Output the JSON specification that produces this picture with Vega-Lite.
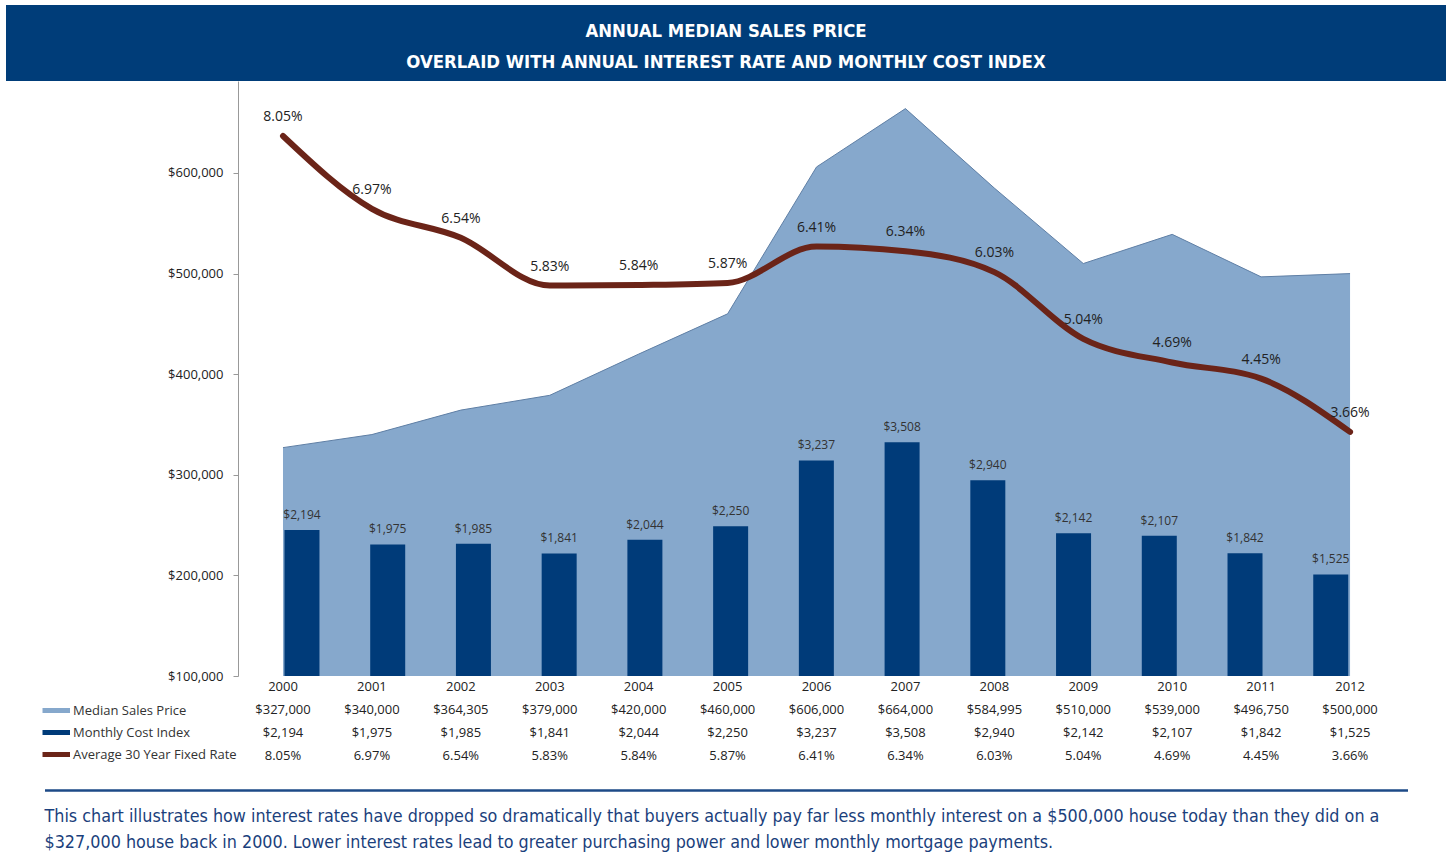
{
  "$schema": "https://vega.github.io/schema/vega-lite/v6.json",
  "background": "white",
  "padding": {"left": 6, "top": 5, "right": 3, "bottom": 0},
  "spacing": 0,
  "bounds": "flush",
  "center": true,
  "config": {"view": {"stroke": null}, "font": "Open Sans"},
  "datasets": {
    "years": [
      {"year": 2000, "price": 327000, "cost": 2194, "rate": 0.0805},
      {"year": 2001, "price": 340000, "cost": 1975, "rate": 0.0697},
      {"year": 2002, "price": 364305, "cost": 1985, "rate": 0.0654},
      {"year": 2003, "price": 379000, "cost": 1841, "rate": 0.0583},
      {"year": 2004, "price": 420000, "cost": 2044, "rate": 0.0584},
      {"year": 2005, "price": 460000, "cost": 2250, "rate": 0.0587},
      {"year": 2006, "price": 606000, "cost": 3237, "rate": 0.0641},
      {"year": 2007, "price": 664000, "cost": 3508, "rate": 0.0634},
      {"year": 2008, "price": 584995, "cost": 2940, "rate": 0.0603},
      {"year": 2009, "price": 510000, "cost": 2142, "rate": 0.0504},
      {"year": 2010, "price": 539000, "cost": 2107, "rate": 0.0469},
      {"year": 2011, "price": 496750, "cost": 1842, "rate": 0.0445},
      {"year": 2012, "price": 500000, "cost": 1525, "rate": 0.0366}
    ],
    "title": [
      {"line": 1, "text": "ANNUAL MEDIAN SALES PRICE"},
      {"line": 2, "text": "OVERLAID WITH ANNUAL INTEREST RATE AND MONTHLY COST INDEX"}
    ],
    "caption": [
      {"line": 1, "text": "This chart illustrates how interest rates have dropped so dramatically that buyers actually pay far less monthly interest on a $500,000 house today than they did on a"},
      {"line": 2, "text": "$327,000 house back in 2000.  Lower interest rates lead to greater purchasing power and lower monthly mortgage payments."}
    ]
  },
  "vconcat": [
    {
      "width": 1440,
      "height": 76,
      "view": {"fill": "#003d79", "stroke": null},
      "data": {"name": "title"},
      "mark": {"type": "text", "font": "DejaVu Sans Condensed, Roboto, sans-serif", "fontWeight": "bold", "fontSize": 18.4, "color": "white", "align": "center", "baseline": "middle"},
      "encoding": {
        "y": {"field": "line", "type": "ordinal", "axis": null, "scale": {"type": "point", "padding": 0.726, "align": 0.58}},
        "text": {"field": "text"}
      }
    },
    {
      "width": 1440,
      "height": 595,
      "data": {"name": "years"},
      "layer": [
        {
          "mark": {"type": "area", "color": "#86a8cc", "opacity": 1, "line": {"color": "#5f7fa5", "strokeWidth": 1}},
          "encoding": {
            "x": {"field": "year", "type": "quantitative", "scale": {"domain": [1996.885, 2013.079], "nice": false, "zero": false}, "axis": null},
            "y": {"field": "price", "type": "quantitative", "scale": {"domain": [100000, 691450], "nice": false, "zero": false},
              "axis": {"offset": -232, "values": [100000, 200000, 300000, 400000, 500000, 600000], "format": "$,.0f", "labelFontSize": 13, "labelColor": "#222", "tickSize": 5, "tickColor": "#999", "domainColor": "#999", "labelPadding": 10, "grid": false, "title": null, "labelFlush": false}},
            "y2": {"datum": 100000}
          }
        },
        {
          "encoding": {
            "x": {"field": "year", "type": "quantitative", "scale": {"domain": [1996.606, 2013.286], "nice": false, "zero": false}, "axis": null},
            "y": {"field": "cost", "type": "quantitative", "scale": {"domain": [0, 8934], "nice": false}, "axis": null}
          },
          "layer": [
            {"mark": {"type": "bar", "orient": "vertical", "width": 35, "color": "#003b79"}},
            {"mark": {"type": "text", "dy": -15, "fontSize": 12, "color": "#333", "baseline": "middle"},
             "encoding": {"text": {"field": "cost", "type": "quantitative", "format": "$,.0f"}}}
          ]
        },
        {
          "encoding": {
            "x": {"field": "year", "type": "quantitative", "scale": {"domain": [1996.885, 2013.079], "nice": false, "zero": false}, "axis": null},
            "y": {"field": "rate", "type": "quantitative", "scale": {"domain": [0.00038, 0.08866], "nice": false, "zero": false}, "axis": null}
          },
          "layer": [
            {"mark": {"type": "line", "interpolate": "monotone", "strokeWidth": 6, "color": "#6b2418", "strokeCap": "round"}},
            {"mark": {"type": "text", "dy": -19, "fontSize": 14, "color": "#222", "baseline": "middle"},
             "encoding": {"text": {"field": "rate", "type": "quantitative", "format": ".2%"}}}
          ]
        }
      ],
      "resolve": {"scale": {"x": "independent", "y": "independent"}}
    },
    {
      "width": 1440,
      "height": 114,
      "data": {"name": "years"},
      "encoding": {
        "x": {"field": "year", "type": "quantitative", "scale": {"domain": [1996.885, 2013.079], "nice": false, "zero": false}, "axis": null}
      },
      "layer": [
        {
          "mark": {"type": "text", "fontSize": 13, "color": "#222", "baseline": "middle"},
          "encoding": {
            "y": {"datum": "Year", "type": "nominal", "axis": null, "scale": {"type": "point", "domain": ["Year", "Median Sales Price", "Monthly Cost Index", "Average 30 Year Fixed Rate"], "padding": 1.09, "align": 0.25}},
            "text": {"field": "year", "type": "quantitative", "format": "d"}
          }
        },
        {
          "mark": {"type": "text", "fontSize": 13, "color": "#222", "baseline": "middle", "strokeWidth": 0},
          "encoding": {
            "y": {"datum": "Median Sales Price", "type": "nominal"},
            "text": {"field": "price", "type": "quantitative", "format": "$,.0f"},
            "stroke": {"datum": "Median Sales Price", "type": "nominal",
              "scale": {"domain": ["Median Sales Price", "Monthly Cost Index", "Average 30 Year Fixed Rate"], "range": ["#86a8cc", "#003b79", "#6b2418"]},
              "legend": {
                "orient": "none", "legendX": 52, "legendY": 698, "title": null, "padding": 0,
                "labelFontSize": 13, "labelColor": "#333", "labelFont": "Open Sans", "labelOffset": 0, "labelLimit": 400,
                "symbolType": "M-4.6,0H0.9", "symbolSize": 100, "symbolStrokeWidth": 5, "rowPadding": 1
              }
            }
          }
        },
        {
          "mark": {"type": "text", "fontSize": 13, "color": "#222", "baseline": "middle"},
          "encoding": {
            "y": {"datum": "Monthly Cost Index", "type": "nominal"},
            "text": {"field": "cost", "type": "quantitative", "format": "$,.0f"}
          }
        },
        {
          "mark": {"type": "text", "fontSize": 13, "color": "#222", "baseline": "middle"},
          "encoding": {
            "y": {"datum": "Average 30 Year Fixed Rate", "type": "nominal"},
            "text": {"field": "rate", "type": "quantitative", "format": ".2%"}
          }
        }
      ]
    },
    {
      "width": 1363,
      "height": 75,
      "data": {"name": "caption"},
      "mark": {"type": "text", "align": "left", "baseline": "middle", "font": "DejaVu Sans Condensed, Roboto, sans-serif", "fontSize": 17.8, "color": "#1b3f7c"},
      "encoding": {
        "x": {"datum": 0, "type": "quantitative", "scale": {"domain": [0, 1], "nice": false},
          "axis": {"orient": "top", "domainColor": "#1d4a87", "domainWidth": 2.5, "labels": false, "ticks": false, "grid": false, "title": null}},
        "y": {"field": "line", "type": "ordinal", "axis": null, "scale": {"type": "point", "padding": 0.942, "align": 0.55}},
        "text": {"field": "text"}
      }
    }
  ]
}
